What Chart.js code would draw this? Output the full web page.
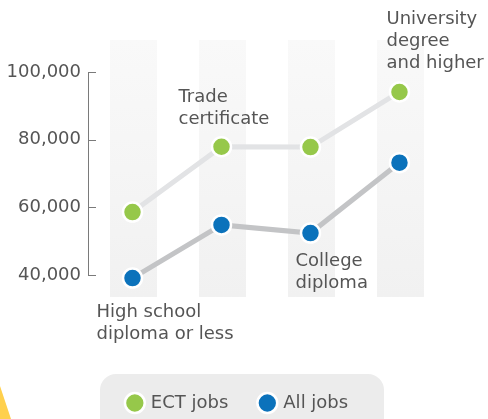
<!DOCTYPE html>
<html>
<head>
<meta charset="utf-8">
<script src="https://cdn.jsdelivr.net/npm/chart.js@4"></script>
<style>
  html, body { margin: 0; padding: 0; background: #ffffff; }
  #wrap { width: 488px; height: 419px; position: relative; }
</style>
</head>
<body>
<div id="wrap"><canvas id="c"></canvas></div>
<script>
// ---- data ----
const categories = [
  ["High school", "diploma or less"],
  ["Trade", "certificate"],
  ["College", "diploma"],
  ["University", "degree", "and higher"]
];
const seriesNames = ["ECT jobs", "All jobs"];
const ectJobs = [58600, 77900, 77800, 94100];
const allJobs = [39100, 54800, 52400, 73200];
const yTicks = [40000, 60000, 80000, 100000];

const FONT = "'DejaVu Sans', sans-serif";
const TEXT = "#555555";

const bandsPlugin = {
  id: 'bands',
  beforeDraw(chart) {
    const ctx = chart.ctx;
    // decorative corner shape
    ctx.save();
    ctx.fillStyle = '#ffd04d';
    ctx.beginPath();
    ctx.moveTo(0, 386); ctx.lineTo(11, 419); ctx.lineTo(0, 419); ctx.closePath();
    ctx.fill();
    // legend background
    ctx.fillStyle = '#ececec';
    ctx.beginPath();
    ctx.roundRect(100, 374, 284, 70, 16);
    ctx.fill();
    ctx.restore();
  },
  beforeDatasetsDraw(chart) {
    const ctx = chart.ctx;
    const x = chart.scales.x;
    const area = chart.chartArea;
    const top = area.top - 32, bottom = area.bottom + 22;
    ctx.save();
    const g = ctx.createLinearGradient(0, top, 0, bottom);
    g.addColorStop(0, '#f9f9f9');
    g.addColorStop(1, '#f1f1f1');
    ctx.fillStyle = g;
    categories.forEach((c, i) => {
      const px = x.getPixelForValue(i) + 1;
      ctx.fillRect(Math.round(px - 23.5), top, 47, bottom - top);
    });
    // y tick marks to the right of the axis line
    const y = chart.scales.y;
    ctx.strokeStyle = '#7a7a7a';
    ctx.lineWidth = 1;
    yTicks.forEach(v => {
      const py = Math.round(y.getPixelForValue(v)) + 0.5;
      ctx.beginPath();
      ctx.moveTo(area.left, py);
      ctx.lineTo(area.left + 8, py);
      ctx.stroke();
    });
    ctx.restore();
  },
  afterDatasetsDraw(chart) {
    const ctx = chart.ctx;
    const lh = 22;
    // which point each category label is anchored to: [dataset, dx, dy of first line]
    const anchors = [
      { ds: 1, dx: -36, dy: 34, lines: 2 },
      { ds: 0, dx: -43, dy: -27 - lh, lines: 2 },
      { ds: 1, dx: -15, dy: 28, lines: 2 },
      { ds: 0, dx: -13, dy: -29 - 2 * lh, lines: 3 }
    ];
    ctx.save();
    ctx.font = "18px " + FONT;
    ctx.fillStyle = TEXT;
    ctx.textAlign = 'left';
    ctx.textBaseline = 'middle';
    categories.forEach((lines, i) => {
      const a = anchors[i];
      const pt = chart.getDatasetMeta(a.ds).data[i];
      lines.forEach((t, k) => {
        ctx.fillText(t, pt.x + a.dx, pt.y + a.dy + k * lh);
      });
    });
    ctx.restore();
  }
};

new Chart(document.getElementById('c'), {
  type: 'line',
  data: {
    datasets: [
      {
        label: seriesNames[0],
        data: ectJobs.map((v, i) => ({ x: i, y: v })),
        borderColor: '#e2e3e5',
        borderWidth: 5,
        pointBackgroundColor: '#96c84a',
        pointBorderColor: '#ffffff',
        pointBorderWidth: 2.5,
        pointRadius: 9.5,
        pointHoverRadius: 9.5,
        clip: false
      },
      {
        label: seriesNames[1],
        data: allJobs.map((v, i) => ({ x: i, y: v })),
        borderColor: '#c3c4c6',
        borderWidth: 5,
        pointBackgroundColor: '#0b72bb',
        pointBorderColor: '#ffffff',
        pointBorderWidth: 2.5,
        pointRadius: 9.5,
        pointHoverRadius: 9.5,
        clip: false
      }
    ]
  },
  options: {
    responsive: true,
    maintainAspectRatio: false,
    animation: false,
    layout: { padding: { top: 72, right: 12, left: 0, bottom: -3 } },
    scales: {
      x: {
        type: 'linear',
        min: -0.5,
        max: 3.86,
        display: true,
        ticks: { display: false },
        grid: { display: false },
        border: { display: false },
        afterFit: s => { s.height = 87; }
      },
      y: {
        min: 40000,
        max: 100000,
        afterBuildTicks: s => { s.ticks = yTicks.map(v => ({ value: v })); },
        ticks: {
          padding: 7,
          color: TEXT,
          font: { family: FONT, size: 18 },
          callback: v => Number(v).toLocaleString('en-US')
        },
        grid: { display: false, drawTicks: false },
        border: { display: true, color: '#7a7a7a', width: 1 },
        afterFit: s => { s.width = 88; }
      }
    },
    plugins: {
      legend: {
        position: 'bottom',
        labels: {
          usePointStyle: true,
          pointStyle: 'circle',
          boxWidth: 14,
          boxHeight: 14,
          padding: 32,
          color: TEXT,
          font: { family: FONT, size: 18 }
        }
      },
      tooltip: { enabled: false }
    }
  },
  plugins: [bandsPlugin]
});
</script>
</body>
</html>
